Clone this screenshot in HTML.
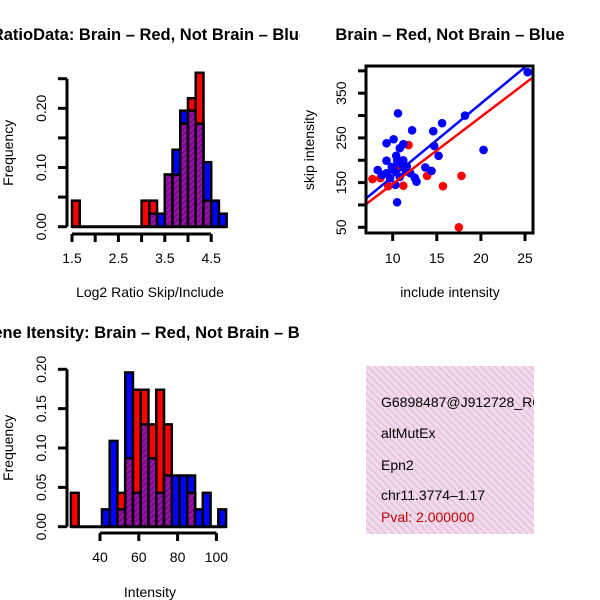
<!DOCTYPE html>
<html><head><meta charset="utf-8"><style>
body{margin:0;background:#fff}
svg{display:block;font-family:"Liberation Sans",sans-serif}
</style></head><body>
<svg id="s" width="600" height="600" viewBox="0 0 600 600">
<defs>
<pattern id="hatch" width="4" height="4" patternUnits="userSpaceOnUse" patternTransform="rotate(45)">
<rect width="4" height="4" fill="#a010b0"/><rect width="2" height="4" fill="#7a0a8a"/>
</pattern>
<pattern id="pink" width="5" height="5" patternUnits="userSpaceOnUse" patternTransform="rotate(-45)">
<rect width="5" height="5" fill="#f8d8f0"/><rect width="1.5" height="5" fill="#d8c8d0"/>
</pattern>
<clipPath id="c1"><rect x="0" y="0" width="300" height="600"/></clipPath>
<clipPath id="c2"><rect x="366" y="66" width="167" height="167"/></clipPath>
<clipPath id="c3"><rect x="366" y="366" width="168" height="168"/></clipPath>
</defs>
<g id="g1"></g>
<g id="g2"></g>
<g id="g3"></g>
<g clip-path="url(#c3)">
<rect x="366" y="366" width="168" height="168" fill="url(#pink)"/>
<text x="381" y="407" font-size="14">G6898487@J912728_RC</text>
<text x="381" y="438" font-size="14">altMutEx</text>
<text x="381" y="470" font-size="14">Epn2</text>
<text x="381" y="500" font-size="14">chr11.3774–1.17</text>
<text x="381" y="522" font-size="14" fill="#c00000">Pval: 2.000000</text>
</g>
</svg>
<script>
// Ratio histogram data (bin width 1/6 starting at 1.5)
const ratioBinStart = 1.5, ratioBinWidth = 1/6;
const ratioRed  = [0.044,0,0,0,0,0,0,0,0,0.044,0.044,0,0.088,0.088,0.174,0.217,0.26,0.044,0,0];
const ratioBlue = [0,0,0,0,0,0,0,0,0,0,0.022,0.022,0.088,0.13,0.196,0.196,0.174,0.109,0.044,0.022];
const ratioXTicks = [1.5,2,2.5,3,3.5,4,4.5];
const ratioXLabels = ["1.5","","2.5","","3.5","","4.5"];
const ratioYTicks = [0,0.05,0.1,0.15,0.2,0.25];
const ratioYLabels = ["0.00","","0.10","","0.20",""];
// Intensity histogram data (bin width 4 starting at 25)
const intBinStart = 25, intBinWidth = 4;
const intRed  = [0.043,0,0,0,0,0,0.043,0.087,0.174,0.174,0.13,0.174,0.13,0,0,0.043,0,0,0,0];
const intBlue = [0,0,0,0,0.022,0.109,0.022,0.196,0.043,0.13,0.087,0.043,0.065,0.065,0.065,0.065,0.022,0.043,0,0.022];
const intXTicks = [40,60,80,100];
const intYTicks = [0,0.05,0.1,0.15,0.2];
const intYLabels = ["0.00","0.05","0.10","0.15","0.20"];
// Scatter data
const blueX = [25.3,18.2,20.3,15.6,14.6,12.2,10.6,9.3,10.1,11.2,10.8,14.7,15.2,9.3,8.3,10.5,11.2,11.6,10.1,9.3,13.7,14.4,12.5,12.7,10.3,10.5,12.0,10.8,9.7,8.8,11.0,10.4,9.9,11.5,10.7];
const blueY = [397,300,223,283,265,267,305,238,247,236,227,232,210,199,178,200,200,186,178,171,184,176,161,152,145,106,171,163,160,167,190,210,185,175,195];
const redX = [7.7,11.8,13.9,17.8,15.7,11.2,17.5,9.5,8.6,10.5];
const redY = [158,234,165,165,142,143,50,142,160,186];
const scXTicks = [10,15,20,25];
const scYTicks = [50,100,150,200,250,300,350,400];
const scYLabels = ["50","","150","","250","","350",""];
const redFit = [-3, 15.0];
const blueFit = [0.7, 16.3];

const NS="http://www.w3.org/2000/svg";
function mk(parent,tag,attrs,txt){const e=document.createElementNS(NS,tag);for(const k in attrs)e.setAttribute(k,attrs[k]);if(txt!==undefined)e.textContent=txt;parent.appendChild(e);return e;}

function hist(g,red,blue,start,w,xs,ys,xTicks,xLabels,yTicks,yLabels,axY,yAxisTop,titleX,xlY,title,titleY,xTitle){
  for(let i=0;i<red.length;i++){
    const x0=xs(start+i*w),x1=xs(start+(i+1)*w);
    if(red[i]>0){const r=mk(g,'rect',{x:x0,y:ys(red[i]),width:x1-x0,height:ys(0)-ys(red[i]),fill:'#ff0000',stroke:'#000','stroke-width':2.5});
      
      }
    if(blue[i]>0){const b=mk(g,'rect',{x:x0,y:ys(blue[i]),width:x1-x0,height:ys(0)-ys(blue[i]),fill:'#0000ff',stroke:'#000','stroke-width':2.5});
      
      }
    const m=Math.min(red[i],blue[i]);
    if(m>0){const p=mk(g,'rect',{x:x0,y:ys(m),width:x1-x0,height:ys(0)-ys(m),fill:'url(#hatch)',stroke:'#000','stroke-width':2.5});
      
      }
  }
  mk(g,'line',{x1:xs(start),x2:xs(start+red.length*w),y1:ys(0),y2:ys(0),stroke:'#000','stroke-width':3});
  const xa=mk(g,'g',{});
  
  
  mk(xa,'line',{x1:xs(xTicks[0]),x2:xs(xTicks[xTicks.length-1]),y1:axY,y2:axY,stroke:'#000','stroke-width':3});
  xTicks.forEach((t,i)=>{mk(xa,'line',{x1:xs(t),x2:xs(t),y1:axY,y2:axY+8,stroke:'#000','stroke-width':3});
    if(xLabels[i]){const tl=mk(xa,'text',{x:xs(t),y:axY+29,'font-size':14,'text-anchor':'middle'},xLabels[i]);
      
      }});
  const xt=mk(g,'text',{x:150,y:xlY,'font-size':14,'text-anchor':'middle'},xTitle);
  
  
  const ya=mk(g,'g',{});
  
  
  mk(ya,'line',{x1:67,x2:67,y1:ys(yTicks[0]),y2:ys(yTicks[yTicks.length-1]),stroke:'#000','stroke-width':3});
  yTicks.forEach((t,i)=>{mk(ya,'line',{x1:58,x2:67,y1:ys(t),y2:ys(t),stroke:'#000','stroke-width':3});
    if(yLabels[i]){const tl=mk(ya,'text',{x:0,y:0,'font-size':14,'text-anchor':'middle',transform:`translate(46,${ys(t)}) rotate(-90)`},yLabels[i]);
      
      }});
  const yt=mk(g,'text',{x:0,y:0,'font-size':14,'text-anchor':'middle',transform:`translate(13,${(ys(0)+yAxisTop)/2}) rotate(-90)`},'Frequency');
  
  
  const tt=mk(g,'text',{x:titleX,y:titleY,'font-size':16.5,'font-weight':'bold','text-anchor':'middle','clip-path':'url(#c1)'},title);
  
  
}

const rxs=v=>72+(v-1.5)*46.4, rys=v=>226.7-v*592;
hist(document.getElementById('g1'),ratioRed,ratioBlue,ratioBinStart,ratioBinWidth,rxs,rys,ratioXTicks,ratioXLabels,ratioYTicks,ratioYLabels,234,79,150,297,'RatioData: Brain – Red, Not Brain – Blue',40,'Log2 Ratio Skip/Include');
const ixs=v=>100+(v-40)*1.94, iys=v=>526.7-v*787;
hist(document.getElementById('g3'),intRed,intBlue,intBinStart,intBinWidth,ixs,iys,intXTicks,intXTicks.map(String),intYTicks,intYLabels,533,369,152,597,'Gene Itensity: Brain – Red, Not Brain – Blue',338,'Intensity');

const g2=document.getElementById('g2');
const sx=v=>392.7+(v-10)*8.82, sy=v=>227.3-(v-50)*0.447;
const pts=mk(g2,'g',{'clip-path':'url(#c2)'});
redX.forEach((x,i)=>{const c=mk(pts,'circle',{cx:sx(x),cy:sy(redY[i]),r:4.3,fill:'#ff0000'});
  
  });
blueX.forEach((x,i)=>{const c=mk(pts,'circle',{cx:sx(x),cy:sy(blueY[i]),r:4.3,fill:'#0000ff'});
  
  });
[[redFit,'#ff0000','red-fit-line'],[blueFit,'#0000ff','blue-fit-line']].forEach(([f,col,nm])=>{
  const l=mk(pts,'line',{x1:sx(6),y1:sy(f[0]+f[1]*6),x2:sx(27),y2:sy(f[0]+f[1]*27),stroke:col,'stroke-width':2.5});
  
  });
mk(g2,'rect',{x:366,y:66,width:167,height:167,fill:'none',stroke:'#000','stroke-width':3});
scXTicks.forEach(t=>{mk(g2,'line',{x1:sx(t),x2:sx(t),y1:233,y2:241,stroke:'#000','stroke-width':3});
  const tl=mk(g2,'text',{x:sx(t),y:263,'font-size':14,'text-anchor':'middle'},String(t));
  
  });
scYTicks.forEach((t,i)=>{mk(g2,'line',{x1:358,x2:366,y1:sy(t),y2:sy(t),stroke:'#000','stroke-width':3});
  if(scYLabels[i]){const tl=mk(g2,'text',{x:0,y:0,'font-size':14,'text-anchor':'middle',transform:`translate(346,${sy(t)}) rotate(-90)`},scYLabels[i]);
    
    }});
const sxt=mk(g2,'text',{x:450,y:297,'font-size':14,'text-anchor':'middle'},'include intensity');


const syt=mk(g2,'text',{x:0,y:0,'font-size':14,'text-anchor':'middle',transform:'translate(314,150) rotate(-90)'},'skip intensity');


const stt=mk(g2,'text',{x:450,y:40,'font-size':16.5,'font-weight':'bold','text-anchor':'middle'},'Brain – Red, Not Brain – Blue');


</script>
</body></html>
